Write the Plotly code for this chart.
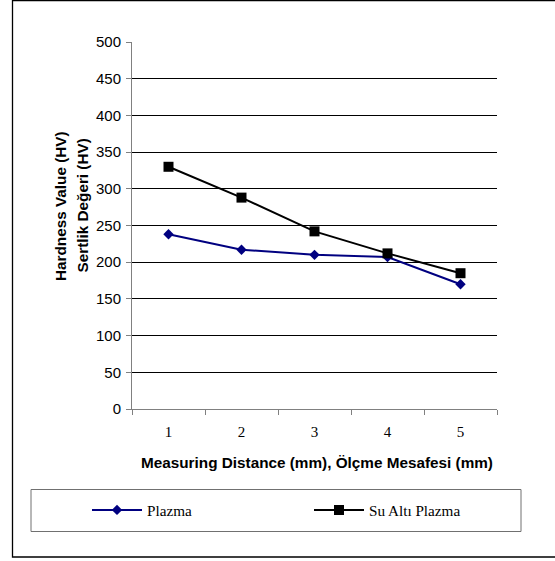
import plotly.graph_objects as go

# Measuring points (mm) and hardness readings (HV)
distance = [1, 2, 3, 4, 5]
tick_labels = ["1", "2", "3", "4", "5"]
plazma = [238, 217, 210, 207, 170]
su_alti_plazma = [330, 288, 242, 212, 185]
y_ticks = [0, 50, 100, 150, 200, 250, 300, 350, 400, 450, 500]

W, H = 555, 561
# plot area in pixels
L, R, T, B = 132, 497, 42, 409


def px(x):
    return (x - L) / (R - L)


def py(y):
    return (B - y) / (B - T)


SANS = "Liberation Sans, Arial, sans-serif"
SERIF = "Liberation Serif, Times New Roman, serif"

fig = go.Figure()
fig.add_trace(go.Scatter(
    x=distance, y=plazma, name="Plazma", mode="lines+markers",
    line=dict(color="#000080", width=2),
    marker=dict(symbol="diamond", size=8, color="#000080"),
))
fig.add_trace(go.Scatter(
    x=distance, y=su_alti_plazma, name="Su Altı Plazma", mode="lines+markers",
    line=dict(color="#000000", width=2),
    marker=dict(symbol="square", size=10, color="#000000"),
))

fig.update_layout(
    width=W, height=H,
    margin=dict(l=L, r=W - R, t=T, b=H - B, pad=0),
    paper_bgcolor="white", plot_bgcolor="white",
    showlegend=True,
    legend=dict(
        orientation="h", x=px(87), y=py(510), xanchor="left", yanchor="middle",
        bgcolor="rgba(0,0,0,0)", borderwidth=0,
        font=dict(family=SERIF, size=15.2, color="#000"),
        itemwidth=50,
        entrywidth=157, entrywidthmode="pixels",
        itemclick=False, itemdoubleclick=False,
    ),
    xaxis=dict(
        range=[0.5, 5.5], tickmode="array", tickvals=distance, ticktext=tick_labels,
        ticks="", showgrid=False, zeroline=False,
        showline=True, linecolor="#808080", linewidth=1,
        tickfont=dict(family=SERIF, size=15, color="#000"),
        ticklabelstandoff=9,
        minor=dict(tickmode="array", tickvals=[0.5, 1.5, 2.5, 3.5, 4.5, 5.5],
                   ticks="outside", ticklen=5, tickcolor="#808080", tickwidth=1,
                   showgrid=False),
    ),
    yaxis=dict(
        range=[0, 500], tickmode="array", tickvals=y_ticks,
        ticks="outside", ticklen=5, tickcolor="#808080", tickwidth=1,
        showgrid=True, gridcolor="#000000", gridwidth=1, zeroline=False,
        showline=True, linecolor="#808080", linewidth=1,
        tickfont=dict(family=SANS, size=15, color="#000"),
        ticklabelstandoff=2,
    ),
)

# axis titles
fig.add_annotation(
    text="<b>Measuring Distance (mm), Ölçme Mesafesi (mm)</b>",
    xref="paper", yref="paper", x=px(316.5), y=py(462),
    xanchor="center", yanchor="middle", showarrow=False,
    font=dict(family=SANS, size=15.3, color="#000"),
)
fig.add_annotation(
    text="<b>Hardness Value (HV)</b>",
    xref="paper", yref="paper", x=px(60), y=py(206),
    xanchor="center", yanchor="middle", showarrow=False, textangle=-90,
    font=dict(family=SANS, size=15.3, color="#000"),
)
fig.add_annotation(
    text="<b>Sertlik Değeri (HV)</b>",
    xref="paper", yref="paper", x=px(81.5), y=py(206),
    xanchor="center", yanchor="middle", showarrow=False, textangle=-90,
    font=dict(family=SANS, size=15.3, color="#000"),
)

# legend frame and chart frame
fig.add_shape(type="rect", xref="paper", yref="paper",
              x0=px(31), x1=px(521), y0=py(489.5), y1=py(531.5),
              line=dict(color="#707070", width=1), fillcolor="rgba(0,0,0,0)", layer="below")
fig.add_shape(type="rect", xref="paper", yref="paper",
              x0=px(12.5), x1=px(600), y0=py(0.5), y1=py(557),
              line=dict(color="#000000", width=1.3), fillcolor="rgba(0,0,0,0)", layer="below")

fig.write_html("out.html")
